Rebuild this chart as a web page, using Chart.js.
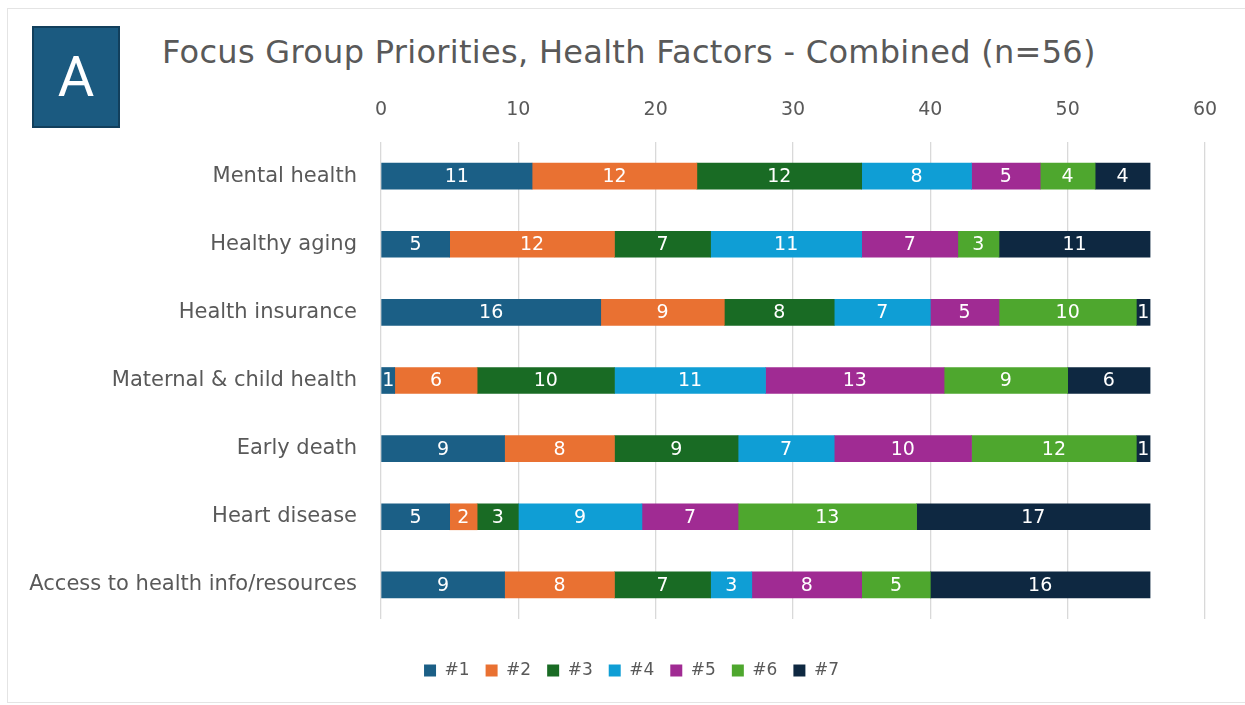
<!DOCTYPE html>
<html>
<head>
<meta charset="utf-8">
<script src="https://cdn.jsdelivr.net/npm/chart.js@4/dist/chart.umd.min.js"></script>
<style>
  html, body { margin: 0; padding: 0; background: #ffffff; }
  #wrap { position: relative; width: 1245px; height: 705px; overflow: hidden; background: #fff; }
  #frame { position: absolute; left: 7px; top: 8px; width: 1250px; height: 695px; border: 1px solid #e4e4e4; box-sizing: border-box; }
  #badge { position: absolute; left: 32px; top: 26px; width: 88px; height: 102px; background: #1b5a80; border: 2px solid #123f5c; box-sizing: border-box;
           color: #fff; font-family: Roboto, "Liberation Sans", sans-serif; font-size: 56px; line-height: 98px; text-align: center; }
  #title { position: absolute; left: 162px; top: 36px; font-family: "DejaVu Sans", sans-serif; font-size: 32px; letter-spacing: 0.3px; line-height: 1; color: #595959; white-space: nowrap; }
  canvas { position: absolute; left: 0; top: 0; }
</style>
</head>
<body>
<div id="wrap">
  <div id="frame"></div>
  <div id="badge">A</div>
  <div id="title">Focus Group Priorities, Health Factors - Combined (n=56)</div>
  <canvas id="c" width="1245" height="705"></canvas>
</div>
<script>
const categories = ["Mental health", "Healthy aging", "Health insurance", "Maternal & child health", "Early death", "Heart disease", "Access to health info/resources"];
const seriesNames = ["#1", "#2", "#3", "#4", "#5", "#6", "#7"];
const rank1 = [11, 5, 16, 1, 9, 5, 9];
const rank2 = [12, 12, 9, 6, 8, 2, 8];
const rank3 = [12, 7, 8, 10, 9, 3, 7];
const rank4 = [8, 11, 7, 11, 7, 9, 3];
const rank5 = [5, 7, 5, 13, 10, 7, 8];
const rank6 = [4, 3, 10, 9, 12, 13, 5];
const rank7 = [4, 11, 1, 6, 1, 17, 16];
const xTicks = [0, 10, 20, 30, 40, 50, 60];
const colors = ["#1b5f86", "#e97132", "#196b24", "#0f9ed5", "#a02b93", "#4ea72e", "#0e2841"];

const allSeries = [rank1, rank2, rank3, rank4, rank5, rank6, rank7];
const FONT = '"DejaVu Sans", sans-serif';

const barLabels = {
  id: 'barLabels',
  afterDatasetsDraw(chart) {
    const ctx = chart.ctx;
    ctx.save();
    ctx.font = '19px ' + FONT;
    ctx.fillStyle = '#ffffff';
    ctx.textAlign = 'center';
    ctx.textBaseline = 'middle';
    chart.data.datasets.forEach((ds, di) => {
      const meta = chart.getDatasetMeta(di);
      meta.data.forEach((bar, i) => {
        const v = ds.data[i];
        if (!v) return;
        const p = bar.getProps(['x', 'y', 'base'], true);
        ctx.fillText(String(v), (p.x + p.base) / 2, p.y + 1);
      });
    });
    ctx.restore();
  }
};

// shift the legend so it is centred where the reference places it
const legendShift = {
  id: 'legendShift',
  afterLayout(chart) {
    const lg = chart.legend;
    if (lg) { lg.left += 29; lg.right += 29; }
  }
};

new Chart(document.getElementById('c'), {
  type: 'bar',
  data: {
    labels: categories,
    datasets: allSeries.map((d, i) => ({
      label: seriesNames[i],
      data: d,
      backgroundColor: colors[i],
      borderWidth: 0,
      barThickness: 26
    }))
  },
  options: {
    indexAxis: 'y',
    responsive: false,
    animation: false,
    layout: { padding: { left: 0, right: 40, top: 90, bottom: 16 } },
    scales: {
      x: {
        position: 'top',
        stacked: true,
        min: 0, max: 60,
        afterBuildTicks(s) { s.ticks = xTicks.map(v => ({ value: v })); },
        afterFit(s) { s.height = 52; },
        grid: { color: '#d9d9d9', drawTicks: false, lineWidth: 1.3 },
        border: { display: false },
        ticks: { color: '#595959', font: { family: FONT, size: 19 }, padding: 21 }
      },
      xb: {
        type: 'linear',
        position: 'bottom',
        min: 0, max: 1,
        afterFit(s) { s.height = 27; },
        grid: { display: false },
        border: { display: false },
        ticks: { display: false }
      },
      y: {
        stacked: true,
        afterFit(s) { s.width = 381; },
        grid: { display: false },
        border: { display: false },
        ticks: { color: '#595959', font: { family: FONT, size: 21 }, padding: 16 }
      }
    },
    plugins: {
      legend: {
        position: 'bottom',
        labels: { boxWidth: 12, boxHeight: 12, color: '#595959', font: { family: FONT, size: 17 }, padding: 16 }
      },
      tooltip: { enabled: false }
    }
  },
  plugins: [barLabels, legendShift]
});
</script>
</body>
</html>
